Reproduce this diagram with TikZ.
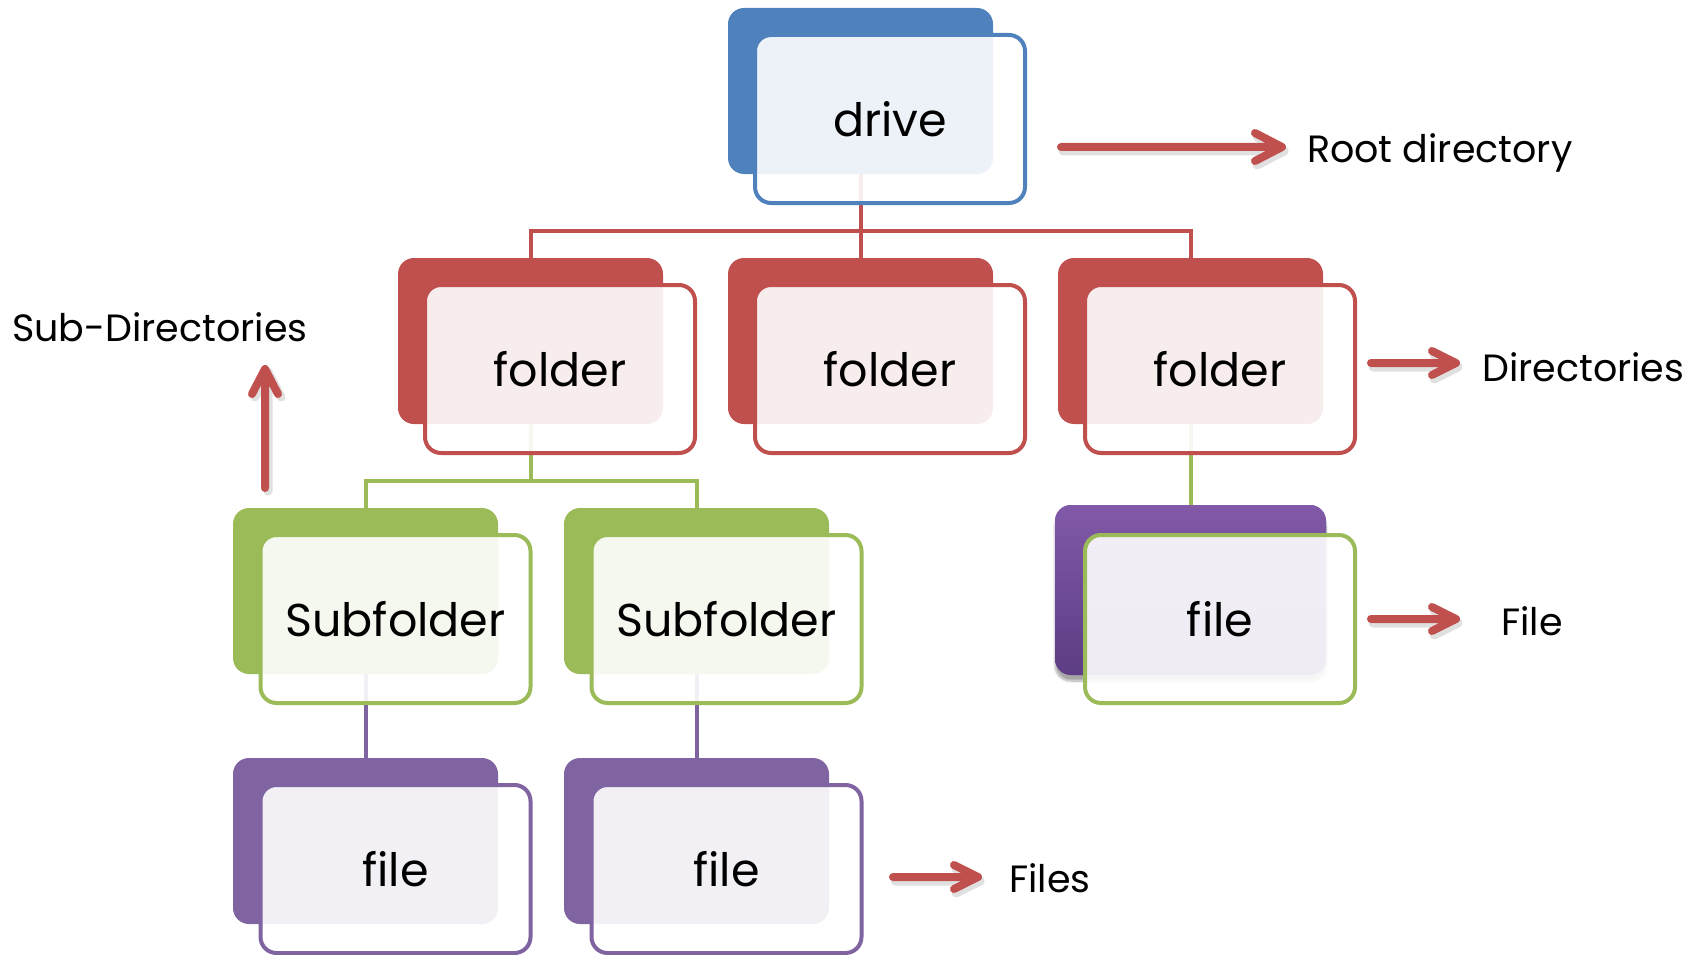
\documentclass[tikz,border=0pt]{standalone}
\usepackage{fontspec}
\setmainfont{Poppins}
\usetikzlibrary{calc,shadows.blur}

\definecolor{blueC}{HTML}{4F81BD}
\definecolor{redC}{HTML}{C0504D}
\definecolor{greenC}{HTML}{9BBB59}
\definecolor{purpleC}{HTML}{8064A2}
\definecolor{purpleTop}{HTML}{8159A8}
\definecolor{purpleBot}{HTML}{5D3D84}

\tikzset{
  backbox/.style={fill=#1, draw=none, rounded corners=16pt, inner sep=0pt,
    minimum width=265pt, minimum height=166pt},
  frontbox/.style={draw=#1, line width=4pt, fill=white, fill opacity=0.9,
    text opacity=1, rounded corners=16pt, inner sep=0pt,
    minimum width=270pt, minimum height=168pt, font=\fontsize{46}{50}\selectfont},
  link/.style={draw=#1, line width=4pt},
  label/.style={font=\fontsize{38}{43}\selectfont, inner sep=0pt, anchor=base west},
  pointer/.style={draw=redC, line width=8pt, line cap=round, line join=round},
  pointershadow/.style={draw=black, draw opacity=0.12, line width=9pt, line cap=round, line join=round}
}

% chevron arrow from #1 to #2, head reaching back #3 and out #4
\newcommand{\hpointer}[4]{%
  \draw[pointershadow] ($(#1)+(2,4)$) -- ($(#2)+(2,4)$)
    ($(#2)+(2-#3,4-#4)$) -- ($(#2)+(2,4)$) -- ($(#2)+(2-#3,4+#4)$);
  \draw[pointer] (#1) -- (#2) ($(#2)+(-#3,-#4)$) -- (#2) -- ($(#2)+(-#3,#4)$);}
\newcommand{\vpointer}[4]{%
  \draw[pointershadow] ($(#1)+(3,3)$) -- ($(#2)+(3,3)$)
    ($(#2)+(3-#4,3+#3)$) -- ($(#2)+(3,3)$) -- ($(#2)+(3+#4,3+#3)$);
  \draw[pointer] (#1) -- (#2) ($(#2)+(-#4,#3)$) -- (#2) -- ($(#2)+(#4,#3)$);}

\begin{document}
\begin{tikzpicture}[x=1pt,y=-1pt]
\useasboundingbox (0,0) rectangle (1700,955);

% ---- back plates ----
\node[backbox=blueC] (driveB) at (860.5,91) {};
\node[backbox=redC] (f1B) at (530.5,341) {};
\node[backbox=redC] (f2B) at (860.5,341) {};
\node[backbox=redC] (f3B) at (1190.5,341) {};
\node[backbox=greenC] (s1B) at (365.5,591) {};
\node[backbox=greenC] (s2B) at (696.5,591) {};
\node[backbox=purpleC] (l1B) at (365.5,841) {};
\node[backbox=purpleC] (l2B) at (696.5,841) {};
\node[backbox=purpleC, minimum width=271pt, minimum height=170pt,
      top color=purpleTop, bottom color=purpleBot,
      blur shadow={shadow xshift=0pt, shadow yshift=-6pt, shadow opacity=35, shadow blur steps=10}]
      (l3B) at (1190.5,590) {};

% ---- connectors ----
\coordinate (busA) at (860.5,231);
\coordinate (busB) at (530.5,481);
\draw[link=redC] (driveB.south) -- (busA);
\draw[link=redC] (f1B.north) |- (busA) -| (f3B.north);
\draw[link=redC] (f2B.north) -- (busA);
\draw[link=greenC] (f1B.south) -- (busB);
\draw[link=greenC] (s1B.north) |- (busB) -| (s2B.north);
\draw[link=greenC] (f3B.south) -- (l3B.north);
\draw[link=purpleC] (s1B.south) -- (l1B.north);
\draw[link=purpleC] (s2B.south) -- (l2B.north);

% ---- front cards ----
\node[frontbox=blueC] (drive) at (890,119) {drive};
\node[frontbox=redC] (f1) at (560,369) {folder};
\node[frontbox=redC] (f2) at (890,369) {folder};
\node[frontbox=redC] (f3) at (1220,369) {folder};
\node[frontbox=greenC] (s1) at (395.5,619) {Subfolder};
\node[frontbox=greenC] (s2) at (726.5,619) {Subfolder};
\node[frontbox=purpleC] (l1) at (395.5,869) {file};
\node[frontbox=purpleC] (l2) at (726.5,869) {file};
\node[frontbox=greenC] (l3) at (1220,619) {file};

% ---- labels ----
\node[label] (rootL) at (1307,162) {Root directory};
\node[label] (dirL) at (1482,381) {Directories};
\node[label] (fileL) at (1501,635) {File};
\node[label] (filesL) at (1009,892) {Files};
\node[label] (subL) at (12,341) {Sub-Directories};

% ---- pointers ----
\coordinate (pa1) at (1061,147); \coordinate (pa2) at (1282,147);
\coordinate (pb1) at (1371,363); \coordinate (pb2) at (1456,363);
\coordinate (pc1) at (1371,619); \coordinate (pc2) at (1456,619);
\coordinate (pd1) at (893,877);  \coordinate (pd2) at (978,877);
\coordinate (pe1) at (265,488);  \coordinate (pe2) at (265,369);
\hpointer{pa1}{pa2}{27}{14}
\hpointer{pb1}{pb2}{24}{12}
\hpointer{pc1}{pc2}{24}{12}
\hpointer{pd1}{pd2}{24}{12}
\vpointer{pe1}{pe2}{25}{13}
\end{tikzpicture}
\end{document}
